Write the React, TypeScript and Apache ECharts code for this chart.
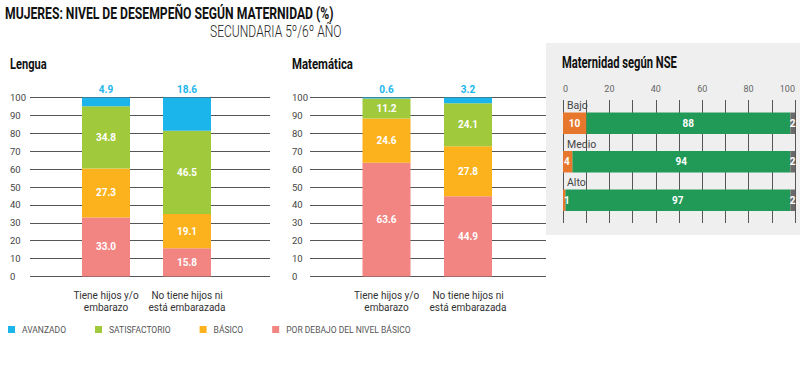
import React, { useEffect, useRef } from "react";
import * as echarts from "echarts";

const categories = ["Tiene hijos y/o\nembarazo", "No tiene hijos ni\nestá embarazada"];
const levelNames = ["AVANZADO", "SATISFACTORIO", "BÁSICO", "POR DEBAJO DEL NIVEL BÁSICO"];
const levelColors = ["#1BB5EC", "#A0C93C", "#FBB21D", "#F28482"];

const lenguaAvanzado = [4.9, 18.6];
const lenguaSatisfactorio = [34.8, 46.5];
const lenguaBasico = [27.3, 19.1];
const lenguaDebajo = [33.0, 15.8];

const mateAvanzado = [0.6, 3.2];
const mateSatisfactorio = [11.2, 24.1];
const mateBasico = [24.6, 27.8];
const mateDebajo = [63.6, 44.9];

const nseCategories = ["Bajo", "Medio", "Alto"];
const nseMaternidad = [10, 4, 1];
const nseSinMaternidad = [88, 94, 97];
const nseOtro = [2, 2, 2];

const FONT = "Roboto, 'Noto Sans', sans-serif";

function condensedText(text: string, x: number, y: number, size: number, weight: string | number, scale: number, color = "#111") {
  return {
    type: "text",
    x,
    y,
    scaleX: scale,
    scaleY: 1,
    style: {
      text,
      fontSize: size,
      fontWeight: weight,
      fontFamily: FONT,
      fill: color,
      textAlign: "left",
      textVerticalAlign: "top",
    },
  };
}

export default function App() {
  const ref = useRef<HTMLDivElement>(null);
  useEffect(() => {
    if (!ref.current) return;
    const chart = echarts.init(ref.current, undefined, { renderer: "svg" });

    const plotTop = 97.5;
    const plotH = 179;
    const lineStyle = { color: "#555", width: 1 };

    const valueYAxis = (grid: number, margin: number) => ({
      type: "value",
      gridIndex: grid,
      min: 0,
      max: 100,
      interval: 10,
      axisLine: { show: false },
      axisTick: { show: false },
      splitLine: { show: true, lineStyle },
      axisLabel: { align: "left", margin, fontSize: 9.5, color: "#444", fontFamily: FONT },
    });
    const hiddenValue = (grid: number) => ({ type: "value", gridIndex: grid, min: 0, max: 100, show: false });
    const catXAxis = (grid: number) => ({
      type: "category",
      gridIndex: grid,
      data: categories,
      axisLine: { show: false },
      axisTick: { show: false },
      axisLabel: { interval: 0, margin: 13, fontSize: 10, lineHeight: 12, color: "#333", fontFamily: FONT },
    });

    const innerLabel = {
      show: true,
      position: "inside",
      color: "#fff",
      fontWeight: "bold",
      fontSize: 10,
      fontFamily: FONT,
      formatter: (p: any) => p.value.toFixed(1),
    };
    const topLabel = {
      show: true,
      position: "top",
      distance: 3,
      color: levelColors[0],
      fontWeight: "bold",
      fontSize: 10,
      fontFamily: FONT,
      formatter: (p: any) => p.value.toFixed(1),
    };

    const panelSeries = (axis: number, stack: string, data: number[][]) =>
      [3, 2, 1, 0].map((li) => ({
        type: "bar",
        name: levelNames[li],
        xAxisIndex: axis,
        yAxisIndex: axis,
        stack,
        barWidth: 48,
        data: data[li],
        itemStyle: { color: levelColors[li] },
        label: li === 0 ? topLabel : innerLabel,
      }));

    const nseLabel = { show: true, position: "inside", color: "#fff", fontWeight: "bold", fontSize: 10, fontFamily: FONT };
    const maternidadData = nseMaternidad.map((v) =>
      v < 5 ? { value: v, label: { position: "insideLeft", distance: 1 } } : v
    );

    const option: any = {
      animation: false,
      backgroundColor: "#fff",
      graphic: [
        { type: "rect", z: -10, shape: { x: 546, y: 43, width: 254, height: 192 }, style: { fill: "#EFEFEF" } },
        condensedText("MUJERES: NIVEL DE DESEMPEÑO SEGÚN MATERNIDAD (%)", 5, 5, 17, "bold", 0.716),
        condensedText("SECUNDARIA 5º/6º AÑO", 210, 23, 17, 300, 0.71, "#222"),
        condensedText("Lengua", 10, 56, 15, "bold", 0.74),
        condensedText("Matemática", 292, 56, 15, "bold", 0.76),
        condensedText("Maternidad según NSE", 562, 54, 16, "bold", 0.70),
      ],
      legend: {
        data: levelNames,
        left: 8,
        top: 325,
        padding: 0,
        icon: "rect",
        itemWidth: 7,
        itemHeight: 7,
        itemGap: 29,
        selectedMode: false,
        textStyle: { fontSize: 8.5, color: "#555", fontFamily: FONT, padding: [0, 0, 0, 2] },
      },
      grid: [
        { left: 30, top: plotTop, width: 240, height: plotH },
        { left: 65.5, top: plotTop, width: 162, height: plotH },
        { left: 310, top: plotTop, width: 236, height: plotH },
        { left: 345.75, top: plotTop, width: 163, height: plotH },
        { left: 563, top: 100, width: 232, height: 123 },
        { left: 563, top: 104, width: 232, height: 115.5 },
      ],
      xAxis: [
        { type: "category", gridIndex: 0, data: [""], show: false },
        catXAxis(1),
        { type: "category", gridIndex: 2, data: [""], show: false },
        catXAxis(3),
        {
          type: "value",
          gridIndex: 4,
          position: "top",
          min: 0,
          max: 100,
          interval: 10,
          axisLine: { show: false },
          axisTick: { show: false },
          splitLine: { show: true, lineStyle },
          axisLabel: {
            margin: 7,
            fontSize: 9,
            color: "#666",
            fontFamily: FONT,
            alignMinLabel: "left",
            alignMaxLabel: "right",
            formatter: (v: number) => (v % 20 === 0 ? String(v) : ""),
          },
        },
        hiddenValue(5),
      ],
      yAxis: [
        valueYAxis(0, 20),
        hiddenValue(1),
        valueYAxis(2, 18),
        hiddenValue(3),
        { type: "category", gridIndex: 4, data: nseCategories, show: false },
        {
          type: "category",
          gridIndex: 5,
          data: nseCategories,
          inverse: true,
          axisLine: { show: false },
          axisTick: { show: false },
          axisLabel: {
            inside: true,
            align: "left",
            margin: 4,
            verticalAlign: "bottom",
            padding: [0, 0, 12, 0],
            fontSize: 10.5,
            color: "#444",
            fontFamily: FONT,
          },
        },
      ],
      series: [
        ...panelSeries(1, "lengua", [lenguaAvanzado, lenguaSatisfactorio, lenguaBasico, lenguaDebajo]),
        ...panelSeries(3, "mate", [mateAvanzado, mateSatisfactorio, mateBasico, mateDebajo]),
        { type: "bar", name: "Con maternidad", z: 4, xAxisIndex: 5, yAxisIndex: 5, stack: "nse", barWidth: 21.5, data: maternidadData, itemStyle: { color: "#E8772E" }, label: nseLabel },
        { type: "bar", name: "Sin maternidad", z: 2, xAxisIndex: 5, yAxisIndex: 5, stack: "nse", barWidth: 21.5, data: nseSinMaternidad, itemStyle: { color: "#219A58" }, label: nseLabel },
        { type: "bar", name: "Otro", z: 4, xAxisIndex: 5, yAxisIndex: 5, stack: "nse", barWidth: 21.5, data: nseOtro, itemStyle: { color: "#6A6A6A" }, label: nseLabel },
      ],
    };
    chart.setOption(option);
    return () => chart.dispose();
  }, []);
  return <div ref={ref} style={{ width: 800, height: 369, position: "absolute", left: 0, top: 0 }} />;
}
